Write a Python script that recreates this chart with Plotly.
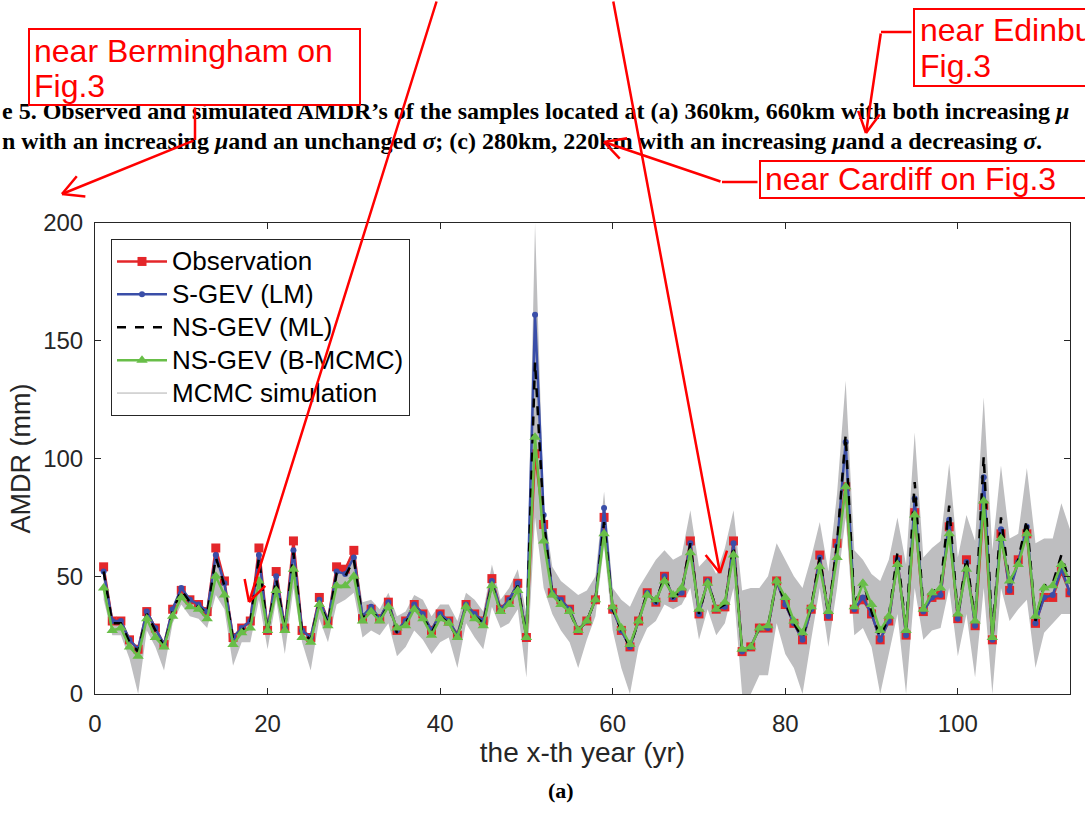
import math
import plotly.graph_objects as go

W, H = 1085, 823
L, R, T, B = 95, 15, 223, 129          # plot-area margins in page pixels
PW, PH = W - L - R, H - T - B

# ---- data -------------------------------------------------------------
years = list(range(1, 114))

observation = [
    54, 31, 31, 23, 19, 35, 28, 21, 36, 44,
    40, 38, 35, 62, 48, 24, 28, 31, 62, 27,
    52, 28, 65, 27, 24, 41, 31, 54, 53, 61,
    32, 36, 32, 39, 27, 31, 38, 34, 27, 34,
    31, 25, 38, 34, 31, 49, 36, 40, 47, 24,
    102, 72, 43, 40, 36, 27, 31, 40, 75, 36,
    27, 20, 31, 43, 39, 50, 41, 43, 65, 34,
    48, 36, 37, 65, 18, 20, 28, 28, 48, 38,
    30, 23, 36, 59, 33, 64, 88, 36, 40, 34,
    23, 31, 57, 25, 77, 35, 41, 42, 71, 32,
    57, 29, 80, 23, 68, 44, 57, 68, 30, 41,
    41, 52, 43,
]

s_gev_lm = [
    52, 31, 31, 23, 19, 35, 28, 21, 36, 45,
    40, 38, 35, 59, 47, 24, 28, 31, 59, 27,
    50, 28, 61, 27, 24, 40, 31, 52, 51, 58,
    33, 37, 32, 39, 27, 31, 38, 34, 27, 34,
    31, 25, 38, 34, 31, 48, 36, 40, 47, 24,
    161, 76, 43, 40, 36, 27, 31, 40, 79, 36,
    27, 20, 31, 43, 39, 50, 41, 43, 64, 34,
    48, 36, 37, 64, 18, 20, 28, 28, 48, 38,
    30, 23, 36, 58, 33, 63, 107, 36, 41, 34,
    23, 31, 57, 25, 83, 35, 41, 42, 74, 32,
    56, 29, 92, 23, 70, 44, 56, 71, 30, 41,
    42, 53, 43,
]

ns_gev_ml = [
    52, 30, 30, 22, 18, 34, 27, 20, 35, 44,
    39, 37, 34, 58, 46, 23, 27, 30, 58, 26,
    49, 27, 60, 26, 23, 39, 30, 51, 50, 57,
    32, 36, 31, 38, 26, 30, 37, 33, 26, 33,
    30, 24, 37, 33, 30, 47, 35, 39, 46, 24,
    141, 74, 42, 39, 35, 27, 31, 40, 73, 36,
    27, 20, 31, 43, 39, 50, 41, 44, 64, 34,
    48, 36, 38, 63, 18, 20, 28, 29, 48, 39,
    30, 24, 37, 58, 34, 64, 110, 38, 48, 35,
    24, 33, 60, 27, 90, 36, 43, 46, 80, 33,
    58, 31, 101, 24, 75, 47, 57, 74, 31, 46,
    47, 59, 47,
]

ns_gev_bmcmc = [
    45, 27, 28, 20, 16, 32, 24, 20, 33, 41,
    37, 36, 32, 50, 42, 21, 26, 28, 48, 27,
    44, 27, 53, 24, 22, 38, 29, 46, 46, 50,
    31, 35, 31, 37, 28, 29, 36, 32, 25, 32,
    30, 24, 37, 32, 29, 46, 35, 38, 44, 24,
    109, 65, 42, 38, 35, 27, 31, 40, 68, 37,
    28, 21, 31, 42, 40, 48, 42, 45, 60, 36,
    47, 36, 39, 59, 19, 20, 28, 29, 48, 41,
    31, 26, 37, 54, 35, 58, 88, 37, 47, 38,
    27, 33, 55, 27, 76, 36, 43, 45, 68, 34,
    53, 31, 82, 24, 66, 48, 55, 68, 33, 45,
    46, 55, 48,
]

mcmc_lower = [
    40, 25, 25, 15, 0, 27, 20, 10, 30, 38,
    33, 32, 28, 42, 36, 12, 22, 22, 40, 19,
    40, 17, 45, 22, 10, 32, 22, 38, 40, 43,
    24, 27, 25, 30, 16, 20, 27, 23, 17, 22,
    24, 11, 30, 24, 19, 37, 28, 30, 36, 7,
    75, 45, 34, 27, 22, 11, 23, 33, 63, 27,
    11, 0, 20, 28, 31, 38, 36, 38, 45, 23,
    36, 25, 30, 45, 0, 0, 8, 8, 30, 17,
    11, 0, 23, 45, 20, 45, 75, 25, 28, 20,
    0, 17, 34, 0, 45, 23, 27, 28, 45, 16,
    34, 7, 45, 0, 45, 31, 36, 40, 11, 26,
    30, 34, 34,
]

mcmc_upper = [
    55, 32, 32, 24, 20, 36, 29, 22, 37, 46,
    41, 39, 36, 63, 49, 25, 29, 32, 63, 30,
    53, 30, 66, 28, 25, 42, 33, 55, 54, 62,
    39, 40, 36, 43, 33, 35, 42, 40, 33, 38,
    38, 31, 43, 40, 35, 55, 40, 45, 53, 34,
    200, 80, 54, 48, 45, 42, 44, 50, 86, 45,
    40, 37, 45, 51, 57, 61, 57, 59, 78, 54,
    58, 51, 62, 78, 44, 45, 45, 50, 64, 57,
    50, 45, 58, 73, 52, 85, 133, 61, 57, 51,
    48, 57, 75, 55, 111, 58, 62, 65, 98, 58,
    76, 65, 126, 61, 97, 66, 68, 96, 64, 66,
    66, 81, 70,
]

x_ticks = [0, 20, 40, 60, 80, 100]
y_ticks = [0, 50, 100, 150, 200]

# ---- colours / fonts ---------------------------------------------------
RED = "rgb(228,38,42)"
BLUE = "rgb(58,78,168)"
GREEN = "rgb(104,190,72)"
BAND = "rgb(190,190,192)"
AXIS = "rgb(38,38,38)"
SANS = "Liberation Sans, Arial, sans-serif"
SERIF = "Liberation Serif, Times New Roman, serif"


def legend_name(s):
    # larger glyphs than the legend's own row spacing
    return '<span style="font-size:26px">%s</span>' % s


fig = go.Figure()

# MCMC simulation envelope
fig.add_trace(go.Scatter(x=years, y=mcmc_lower, mode="lines",
                         line=dict(width=0, color=BAND),
                         showlegend=False, hoverinfo="skip"))
fig.add_trace(go.Scatter(x=years, y=mcmc_upper, mode="lines", fill="tonexty",
                         fillcolor=BAND, line=dict(width=0, color=BAND),
                         showlegend=False, hoverinfo="skip"))

fig.add_trace(go.Scatter(x=years, y=observation, mode="lines+markers",
                         name=legend_name("Observation"),
                         line=dict(color=RED, width=2.5),
                         marker=dict(symbol="square", size=9, color=RED)))
fig.add_trace(go.Scatter(x=years, y=s_gev_lm, mode="lines+markers",
                         name=legend_name("S-GEV (LM)"),
                         line=dict(color=BLUE, width=2.5),
                         marker=dict(symbol="circle", size=6, color=BLUE)))
fig.add_trace(go.Scatter(x=years, y=ns_gev_ml, mode="lines",
                         name=legend_name("NS-GEV (ML)"),
                         line=dict(color="black", width=2.5, dash="dash")))
fig.add_trace(go.Scatter(x=years, y=ns_gev_bmcmc, mode="lines+markers",
                         name=legend_name("NS-GEV (B-MCMC)"),
                         line=dict(color=GREEN, width=2.5),
                         marker=dict(symbol="triangle-up", size=10, color=GREEN)))
# legend entry for the envelope
fig.add_trace(go.Scatter(x=[None], y=[None], mode="lines",
                         name=legend_name("MCMC simulation"),
                         line=dict(color="rgb(175,175,175)", width=1)))


def px(x):
    return (x - L) / PW


def py(y):
    return (H - B - y) / PH


annotations = []

# figure caption (partly covered by the callout boxes)
annotations.append(dict(
    x=px(0), y=py(111), xref="paper", yref="paper", xanchor="left", yanchor="middle",
    showarrow=False, font=dict(family=SERIF, size=24, color="black"),
    text="<b>e 5. Observed and simulated AMDR’s of the samples located at (a) 360km, "
         "660km with both increasing <i>μ</i></b>"))
annotations.append(dict(
    x=px(0), y=py(141), xref="paper", yref="paper", xanchor="left", yanchor="middle",
    showarrow=False, font=dict(family=SERIF, size=24, color="black"),
    text="<b>n with an increasing <i>μ</i>and an unchanged <i>σ</i>; (c) 280km, 220km "
         "with an increasing <i>μ</i>and a decreasing <i>σ</i>.</b>"))


def box(x0, y0, x1, y1):
    # white callout box drawn above the caption
    bw = 2
    annotations.append(dict(x=px(x0), y=py(y0), xref="paper", yref="paper",
                            xanchor="left", yanchor="top", showarrow=False, text=" ",
                            width=(x1 - x0) - 2 * bw, height=(y1 - y0) - 2 * bw,
                            bgcolor="white", bordercolor="red", borderwidth=bw,
                            borderpad=0))


def label(x, y, text):
    annotations.append(dict(x=px(x), y=py(y), xref="paper", yref="paper",
                            xanchor="left", yanchor="middle", showarrow=False,
                            text=text, font=dict(family=SANS, size=32, color="red")))


box(28, 28, 361, 106)
label(32, 51, "near Bermingham on")
label(32, 86, "Fig.3")

box(913, 8, 1120, 87)
label(918, 30, "near Edinburgh on")
label(918, 66, "Fig.3")

box(759, 160, 1120, 199)
label(763, 179, "near Cardiff on Fig.3")


def seg(x0, y0, x1, y1, width=2.5):
    return dict(x=px(x1), y=py(y1), xref="paper", yref="paper",
                ax=x0 - x1, ay=y0 - y1, axref="pixel", ayref="pixel",
                text="", showarrow=True, arrowhead=0, arrowwidth=width,
                arrowcolor="red", standoff=0, startstandoff=0)


def arrow(points, head_len=25, half_angle=28):
    """Polyline through page-pixel points with an open V head at the last point."""
    out = []
    for (xa, ya), (xb, yb) in zip(points[:-1], points[1:]):
        out.append(seg(xa, ya, xb, yb))
    (xa, ya), (xb, yb) = points[-2], points[-1]
    back = math.atan2(ya - yb, xa - xb)
    for s in (-1, 1):
        a = back + s * math.radians(half_angle)
        out.append(seg(xb + head_len * math.cos(a), yb + head_len * math.sin(a), xb, yb))
    return out


annotations += arrow([(195, 106), (195, 140), (62, 194)])
annotations += arrow([(437, -2), (249, 602)])
annotations += arrow([(613, -2), (720, 573)])
annotations += arrow([(913, 32), (881, 32), (866, 133)])
annotations += arrow([(759, 182), (722, 182), (604, 142)])

annotations.append(dict(x=px(561), y=py(805), xref="paper", yref="paper",
                        showarrow=False, text="<b>(a)</b>",
                        font=dict(family=SERIF, size=22, color="black")))

axis_common = dict(showgrid=False, zeroline=False, showline=True, linecolor=AXIS,
                   linewidth=1, mirror="ticks", ticks="inside", ticklen=6,
                   tickcolor=AXIS, tickfont=dict(family=SANS, size=24, color=AXIS))

fig.update_layout(
    width=W, height=H,
    margin=dict(l=L, r=R, t=T, b=B, pad=0, autoexpand=False),
    paper_bgcolor="white", plot_bgcolor="white",
    font=dict(family=SANS, color=AXIS),
    xaxis=dict(range=[0, 113], tickvals=x_ticks, ticklabelstandoff=8,
               title=dict(text="the x-th year (yr)", font=dict(family=SANS, size=28, color=AXIS),
                          standoff=0),
               **axis_common),
    yaxis=dict(range=[0, 200], tickvals=y_ticks, ticklabelstandoff=6,
               title=dict(text="AMDR (mm)", font=dict(family=SANS, size=27, color=AXIS),
                          standoff=4),
               **axis_common),
    legend=dict(x=(111 - L) / PW, y=py(239), xanchor="left", yanchor="top",
                traceorder="normal",
                bgcolor="white", bordercolor=AXIS, borderwidth=1,
                font=dict(family=SANS, size=23, color="black"),
                itemwidth=50, tracegroupgap=0),
    annotations=annotations,
    showlegend=True,
)

fig.write_html("out.html")
